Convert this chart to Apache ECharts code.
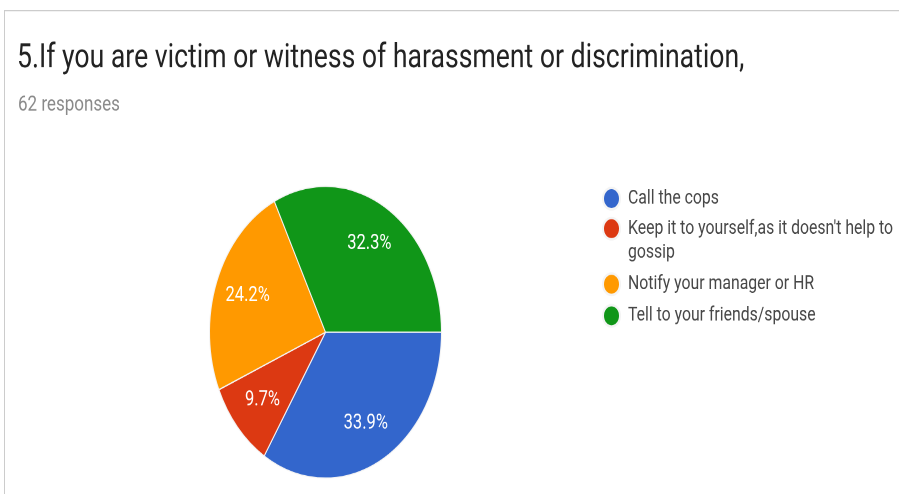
<!DOCTYPE html>
<html>
<head>
<meta charset="utf-8">
<script src="https://cdn.jsdelivr.net/npm/echarts@6/dist/echarts.min.js"></script>
<style>
  html, body { margin: 0; padding: 0; background: #ffffff; overflow: hidden; }
  #wrap { width: 899px; height: 494px; overflow: hidden; position: relative; }
  /* the chart is laid out on a shorter canvas and stretched vertically,
     which turns the pie into the tall ellipse of the survey export */
  #chart { width: 899px; height: 393px; transform: scaleY(1.257); transform-origin: 0 0; }
</style>
</head>
<body>
<div id="wrap"><div id="chart"></div></div>
<script>
// Survey question and answer breakdown
const questionTitle = '5.If you are victim or witness of harassment or discrimination,';
const responseNote = '62 responses';
const categories = [
  'Call the cops',
  "Keep it to yourself,as it doesn't help to gossip",
  'Notify your manager or HR',
  'Tell to your friends/spouse'
];
const shares = [33.9, 9.7, 24.2, 32.3];
const sliceColors = ['#3366cc', '#dc3912', '#ff9900', '#109618'];

// Legend row centres (layout units before the vertical stretch)
const legendRowCenter = [158.0, 181.9, 226.1, 251.2];
const legendLineHeight = 19;
const legendIcon = 17;

const pieCenter = [325.5, 264.3];
const pieRadius = 116;

const pieData = categories.map((name, i) => ({
  name: name,
  value: shares[i],
  itemStyle: { color: sliceColors[i] }
}));

// One legend per entry so each row can sit exactly where it belongs;
// the wrapped entry gets a leading blank line so its first line lines up with the dot.
const legends = categories.map((name, i) => {
  const wrapped = name.length > 40;
  const lines = wrapped ? 3 : 1;
  const h = Math.max(legendIcon, lines * legendLineHeight);
  return {
    data: [name],
    orient: 'vertical',
    left: 602,
    top: legendRowCenter[i] - h / 2,
    padding: 0,
    icon: 'circle',
    itemWidth: legendIcon,
    itemHeight: legendIcon,
    itemGap: 0,
    selectedMode: false,
    formatter: n => (wrapped ? '\n' + n : n),
    textStyle: {
      fontFamily: 'Roboto',
      fontSize: 15.8,
      color: '#474747',
      lineHeight: legendLineHeight,
      width: 285,
      overflow: 'break',
      padding: [0, 0, 0, 3]
    }
  };
});

const chart = echarts.init(document.getElementById('chart'), null, { renderer: 'canvas', devicePixelRatio: 2 });

chart.setOption({
  animation: false,
  backgroundColor: '#ffffff',
  title: [
    {
      text: questionTitle,
      left: 17,
      top: 33.5,
      padding: 0,
      textStyle: { fontFamily: 'Roboto', fontSize: 26.6, fontWeight: 'normal', color: '#222222' }
    },
    {
      text: responseNote,
      left: 18,
      top: 75,
      padding: 0,
      textStyle: { fontFamily: 'Roboto', fontSize: 17, fontWeight: 'normal', color: '#8a8a8a' }
    }
  ],
  legend: legends,
  graphic: [
    {
      type: 'rect',
      silent: true,
      shape: { x: 4.5, y: 8.5, width: 1200, height: 1200 },
      style: { fill: 'none', stroke: '#cccccc', lineWidth: 1 }
    }
  ],
  series: [
    {
      type: 'pie',
      center: pieCenter,
      radius: [0, pieRadius],
      startAngle: 0,
      clockwise: true,
      silent: true,
      label: { show: false },
      labelLine: { show: false },
      itemStyle: { borderColor: '#f4f4f4', borderWidth: 1 },
      data: pieData
    },
    {
      // transparent ring used only to place the percentage labels at ~70% of the radius
      type: 'pie',
      center: pieCenter,
      radius: [Math.round(pieRadius * 0.38), pieRadius],
      startAngle: 0,
      clockwise: true,
      silent: true,
      itemStyle: { color: 'transparent', borderWidth: 0 },
      label: {
        show: true,
        position: 'inside',
        formatter: p => p.value.toFixed(1) + '%',
        fontFamily: 'Roboto',
        fontSize: 16.5,
        color: '#ffffff'
      },
      labelLine: { show: false },
      data: categories.map((name, i) => ({ name: name, value: shares[i] }))
    }
  ]
});
</script>
</body>
</html>
